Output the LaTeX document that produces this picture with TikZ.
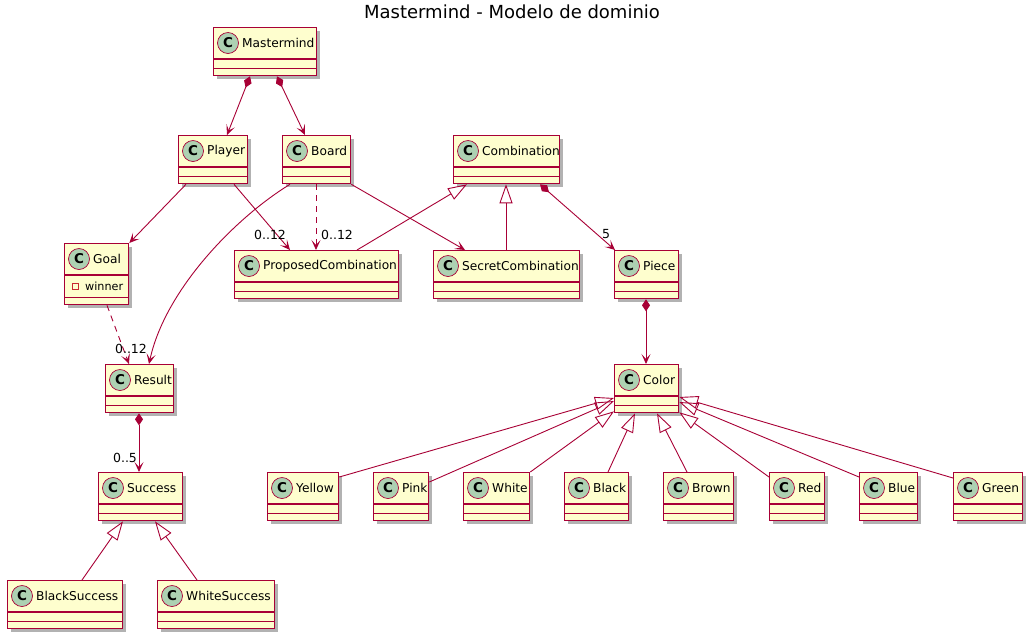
\documentclass[tikz,border=0pt]{standalone}
\usepackage{fontspec}
\setmainfont{DejaVu Sans}
\usetikzlibrary{arrows.meta,calc,shadows}
\definecolor{bord}{HTML}{A80036}
\definecolor{boxfill}{HTML}{FEFECE}
\definecolor{circfill}{HTML}{ADD1B2}
\definecolor{privc}{HTML}{C82930}
\tikzset{
  cls/.style={draw=bord, fill=boxfill, line width=1.3pt, inner sep=0pt, anchor=north west,
    drop shadow={shadow xshift=3.5pt, shadow yshift=-3.5pt, opacity=0.3, fill=black}},
  sepline/.style={draw=bord, line width=1.1pt},
  circ/.style={circle, draw=bord, fill=circfill, line width=0.7pt, minimum size=21pt, inner sep=0pt,
    font=\bfseries\fontsize{13.5}{13.5}\selectfont},
  clsname/.style={anchor=west, inner sep=0pt, font=\fontsize{12.2}{12.2}\selectfont},
  mult/.style={inner sep=0pt, font=\fontsize{12.5}{12.5}\selectfont},
  headtip/.tip={Stealth[length=10pt, width=9pt, inset=5pt]},
  assoc/.style={draw=bord, line width=0.9pt, -headtip},
  dep/.style={assoc, dash pattern=on 6pt off 5pt},
  comp/.style={draw=bord, line width=0.9pt, {Diamond[length=12pt, width=8pt]}-headtip},
  gen/.style={draw=bord, line width=0.9pt, -{Triangle[open, length=19pt, width=13pt]}},
}
\newcommand\umlclass[6]{%
  \node[cls, minimum width=#4pt, minimum height=#5pt] (#1) at (#2,#3) {};
  \draw[sepline] ($(#1.north west)+(0,32)$) -- ($(#1.north east)+(0,32)$);
  \draw[sepline] ($(#1.south west)+(0,-8)$) -- ($(#1.south east)+(0,-8)$);
  \node[circ] (#1c) at ($(#1.north west)+(15,16)$) {C};
  \node[clsname] (#1n) at ($(#1.north west)+(29,16)$) {#6};
}
\begin{document}
\begin{tikzpicture}[x=1pt, y=-1pt]
\useasboundingbox (0,0) rectangle (1035,641);
\fill[white] (0,0) rectangle (1035,641);
\node[inner sep=0pt, font=\fontsize{18}{20}\selectfont] (title) at (512,12) {Mastermind - Modelo de dominio};

\umlclass{mastermind}{213}{27}{103}{48}{Mastermind}
\umlclass{player}{178}{135}{69}{48}{Player}
\umlclass{board}{282}{135}{68}{48}{Board}
\umlclass{combination}{453}{135}{106}{48}{Combination}
\umlclass{goal}{64}{243}{64}{61}{Goal}
\node[draw=privc, line width=0.7pt, minimum size=6pt, inner sep=0pt] (goalpriv) at ($(goal.north west)+(11,43)$) {};
\node[clsname, font=\fontsize{11.2}{11.2}\selectfont] (goalattr) at ($(goal.north west)+(21,43)$) {winner};
\umlclass{proposed}{234}{250}{164}{48}{ProposedCombination}
\umlclass{secret}{433}{250}{146}{48}{SecretCombination}
\umlclass{piece}{614}{250}{64}{48}{Piece}
\umlclass{result}{105}{364}{68}{48}{Result}
\umlclass{color}{614}{364}{64}{48}{Color}
\umlclass{yellow}{267}{472}{71}{48}{Yellow}
\umlclass{pink}{373}{472}{55}{48}{Pink}
\umlclass{white}{463}{472}{66}{48}{White}
\umlclass{black}{564}{472}{64}{48}{Black}
\umlclass{brown}{663}{472}{70}{48}{Brown}
\umlclass{red}{769}{472}{55}{48}{Red}
\umlclass{blue}{859}{472}{58}{48}{Blue}
\umlclass{green}{953}{472}{69}{48}{Green}
\umlclass{success}{98}{472}{84}{48}{Success}
\umlclass{blacks}{7}{580}{115}{48}{BlackSuccess}
\umlclass{whites}{157}{580}{117}{48}{WhiteSuccess}

% connectors
\draw[comp] ($(mastermind.south west)+(37,0)$) -- ($(player.north west)+(49,0)$);
\draw[comp] ($(mastermind.south west)+(64,0)$) -- ($(board.north west)+(23,0)$);
\draw[assoc] ($(player.south west)+(8,0)$) -- (goal.north east);
\draw[assoc] ($(player.south west)+(56,0)$) -- ($(proposed.north west)+(56,0)$);
\draw[assoc] ($(board.south west)+(8,0)$) .. controls (235,218) and (165,290) .. ($(result.north west)+(44,0)$);
\draw[dep] ($(goal.south west)+(43,0)$) -- ($(result.north west)+(24,0)$);
\draw[dep] ($(board.south west)+(34,0)$) -- ($(proposed.north west)+(82,0)$);
\draw[assoc] (board.south east) -- ($(secret.north west)+(32,0)$);
\draw[gen] ($(proposed.north west)+(123,0)$) -- ($(combination.south west)+(14,0)$);
\draw[gen] ($(secret.north west)+(73,0)$) -- ($(combination.south west)+(53,0)$);
\draw[comp] ($(combination.south west)+(87,0)$) -- ($(piece.north west)+(1,0)$);
\draw[comp] ($(piece.south west)+(32,0)$) -- ($(color.north west)+(32,0)$);
\draw[comp] ($(result.south west)+(34,0)$) -- ($(success.north west)+(41,0)$);
\draw[gen] ($(blacks.north west)+(75,0)$) -- ($(success.south west)+(25,0)$);
\draw[gen] ($(whites.north west)+(40,0)$) -- ($(success.south west)+(57,0)$);
\draw[gen] ($(yellow.north east)+(0,5)$) -- ($(color.north west)+(0,34)$);
\draw[gen] ($(pink.north east)+(0,10)$) -- ($(color.north west)+(0,37)$);
\draw[gen] (white.north east) -- ($(color.south west)+(0,-2)$);
\draw[gen] ($(black.north west)+(44,0)$) -- ($(color.south west)+(21,0)$);
\draw[gen] ($(brown.north west)+(24,0)$) -- ($(color.south west)+(43,0)$);
\draw[gen] ($(red.north west)+(0,5)$) -- ($(color.south east)+(0,-1)$);
\draw[gen] ($(blue.north west)+(0,5)$) -- ($(color.north east)+(0,38)$);
\draw[gen] ($(green.north west)+(0,6)$) -- ($(color.north east)+(0,33)$);

% multiplicities
\node[mult] (m1) at (270,235) {0..12};
\node[mult] (m2) at (337,235) {0..12};
\node[mult] (m3) at (131,349) {0..12};
\node[mult] (m4) at (606,234) {5};
\node[mult] (m5) at (125,458) {0..5};
\end{tikzpicture}
\end{document}
